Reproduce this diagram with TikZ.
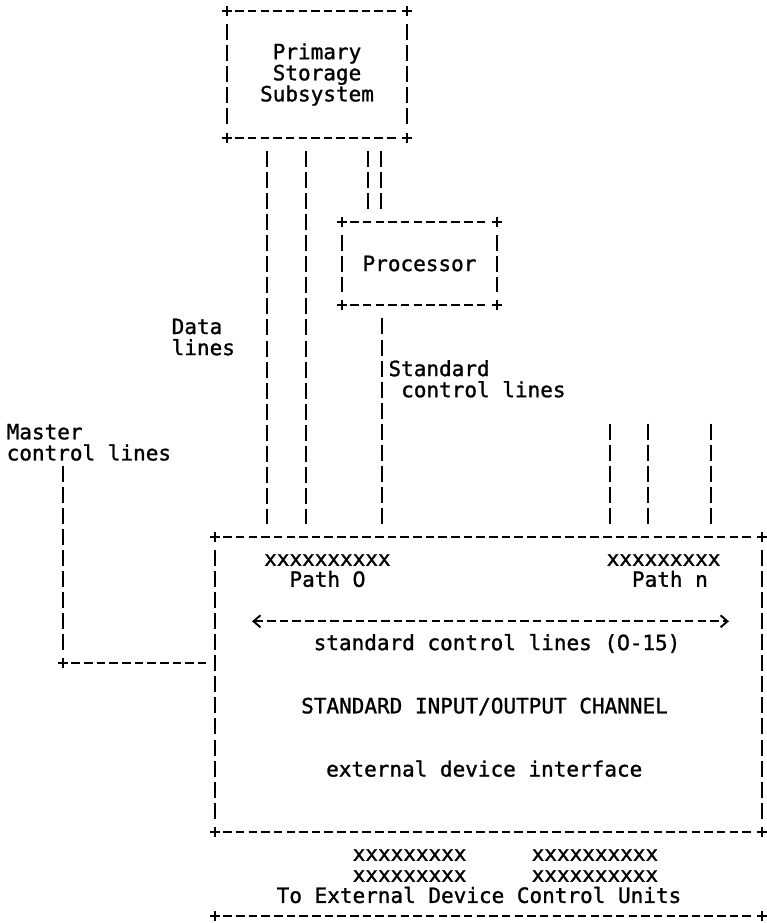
\documentclass[tikz,border=0pt]{standalone}
\usepackage{fontspec}
\newfontfamily\termfont[FakeBold=1.2]{DejaVu Sans Mono}
\newfontfamily\plainzero[FakeBold=1.2]{DejaVu Sans}
\newcommand\termtext{\termfont\fontsize{21}{21.07}\selectfont}
% an unslashed zero set in one monospaced cell
\newcommand\zr{\makebox[12.64pt]{\plainzero 0}}
\usetikzlibrary{arrows.meta}
\begin{document}
\begin{tikzpicture}[x=1pt,y=-1pt,
  hline/.style={line width=2pt, dash pattern=on 8.5pt off 4.16pt,
                shorten <=8.4pt, shorten >=8.4pt},
  vline/.style={line width=2pt, dash pattern=on 16pt off 5.07pt,
                shorten <=13.07pt, shorten >=13.07pt},
  box/.style={draw=none, inner sep=0pt, align=center, font=\termtext},
  txt/.style={inner sep=0pt, anchor=base west, font=\termtext},
  plus/.pic={\draw[line width=1.9pt] (-5,0) -- (5,0) (0,-5) -- (0,5);},
  barb/.tip={Straight Barb[length=7pt,width=12pt,line width=1.9pt]}
]
\useasboundingbox (0,0) rectangle (767,923);

% ---- boxes -------------------------------------------------------------
\node[box, minimum width=180pt, minimum height=126.3pt] (pss) at (317,74.5)
  {Primary\\Storage\\Subsystem};
\node[box, minimum width=155pt, minimum height=83.3pt] (proc) at (419.5,263.55)
  {Processor};
\node[box, minimum width=547pt, minimum height=295pt] (ch) at (488.5,684.5) {};

\foreach \b in {pss,proc,ch}{
  \draw[hline] (\b.north west) -- (\b.north east);
  \draw[hline] (\b.south west) -- (\b.south east);
  \draw[vline] (\b.north west) -- (\b.south west);
  \draw[vline] (\b.north east) -- (\b.south east);
  \foreach \c in {north west,north east,south west,south east}
    \pic at (\b.\c) {plus};
}

% closing rule under the device control units
\coordinate (bl) at (215,916.3);
\coordinate (br) at (762,916.3);
\draw[hline] (bl) -- (br);
\pic at (bl) {plus};
\pic at (br) {plus};

% ---- line bundles ------------------------------------------------------
\coordinate (d1) at (267,0);
\coordinate (d2) at (306,0);
\coordinate (c1) at (368,0);
\coordinate (c2) at (381,0);
\coordinate (s1) at (382,0);
\draw[vline] (d1 |- pss.south) -- (d1 |- ch.north);
\draw[vline] (d2 |- pss.south) -- (d2 |- ch.north);
\draw[vline] (c1 |- pss.south) -- (c1 |- proc.north);
\draw[vline] (c2 |- pss.south) -- (c2 |- proc.north);
\draw[vline] (s1 |- proc.south) -- (s1 |- ch.north);

% path n lines
\foreach \x/\n in {610/n1,648/n2,711/n3}{
  \coordinate (\n) at (\x,410.6);
  \draw[vline] (\n) -- (\n |- ch.north);
}

% master control lines
\coordinate (m0) at (63,452.7);
\coordinate (m1) at (63,663.4);
\draw[vline] (m0) -- (m1);
\draw[hline] (m1) -- (m1 -| ch.west);
\pic at (m1) {plus};

% standard control lines bus inside the channel
\coordinate (al) at (252,621.3);
\coordinate (ar) at (729,621.3);
\draw[line width=2pt, dash pattern=on 8.5pt off 4.16pt, {barb}-{barb}] (al) -- (ar);

% ---- labels ------------------------------------------------------------
\node[txt] (datal1) at (171.5,334.0) {Data};
\node[txt] (datal2) at (171.5,355.1) {lines};
\node[txt] (mastl1) at (6.5,439.3) {Master};
\node[txt] (mastl2) at (6.5,460.4) {control lines};
\node[txt] (stdl1) at (388.3,376.1) {Standard};
\node[txt] (stdl2) at (401,397.2) {control lines};

\node[txt] (xp0) at (264,565.8) {xxxxxxxxxx};
\node[txt] (p0) at (289.3,586.8) {Path \zr};
\node[txt] (xpn) at (606.5,565.8) {xxxxxxxxx};
\node[txt] (pn) at (631.8,586.8) {Path n};
\node[txt] (scl) at (313.5,650.1) {standard control lines (\zr-15)};
\node[txt] (title) at (301,713.3) {STANDARD INPUT/OUTPUT CHANNEL};
\node[txt] (edi) at (326,776.5) {external device interface};

\node[txt] (xa1) at (352.5,860.8) {xxxxxxxxx};
\node[txt] (xb1) at (531.5,860.8) {xxxxxxxxxx};
\node[txt] (xa2) at (352.5,881.8) {xxxxxxxxx};
\node[txt] (xb2) at (531.5,881.8) {xxxxxxxxxx};
\node[txt] (toext) at (276.5,902.9) {To External Device Control Units};
\end{tikzpicture}
\end{document}
